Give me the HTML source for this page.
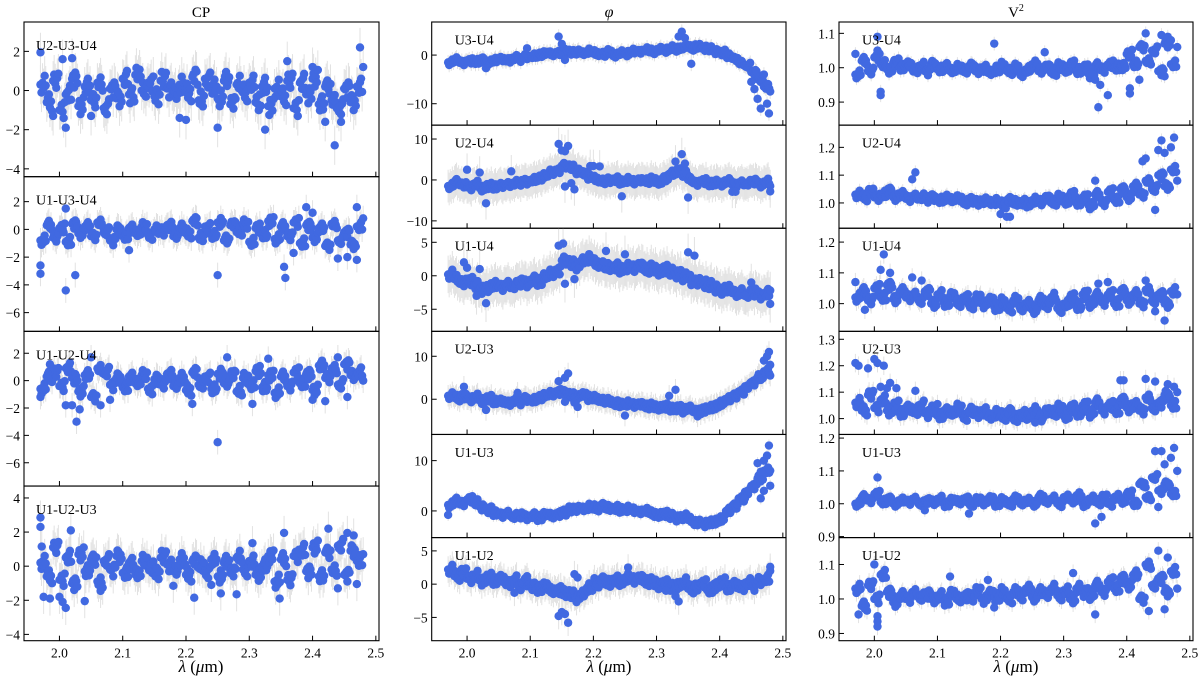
<!DOCTYPE html>
<html><head><meta charset="utf-8"><title>CP, phi and V2 vs wavelength</title>
<style>
html,body{margin:0;padding:0;background:#fff;}
svg{display:block;font-family:"Liberation Serif","DejaVu Serif",serif;}
</style></head>
<body>
<svg id="fig" width="1200" height="681" viewBox="0 0 1200 681" xmlns="http://www.w3.org/2000/svg">
<text x="201" y="17" font-size="15" text-anchor="middle">CP</text>
<text x="609" y="17" font-size="16" font-style="italic" text-anchor="middle">φ</text>
<text x="1016" y="17" font-size="15" text-anchor="middle">V<tspan dy="-6" font-size="10">2</tspan></text>
<text x="201" y="672" font-size="17" text-anchor="middle"><tspan font-style="italic">λ</tspan> (<tspan font-style="italic">μ</tspan>m)</text>
<text x="609" y="672" font-size="17" text-anchor="middle"><tspan font-style="italic">λ</tspan> (<tspan font-style="italic">μ</tspan>m)</text>
<text x="1016" y="672" font-size="17" text-anchor="middle"><tspan font-style="italic">λ</tspan> (<tspan font-style="italic">μ</tspan>m)</text>
</svg>
<script>
const xTicks = [2.0, 2.1, 2.2, 2.3, 2.4, 2.5];
const xTickLabels = ["2.0", "2.1", "2.2", "2.3", "2.4", "2.5"];
const panelNames = ["U2-U3-U4","U1-U3-U4","U1-U2-U4","U1-U2-U3","U3-U4","U2-U4","U1-U4","U2-U3","U1-U3","U1-U2","U3-U4","U2-U4","U1-U4","U2-U3","U1-U3","U1-U2"];
const jitter = [0.6,-0.9,0.2,-0.4,1.0,-0.1,-0.7,0.5,0.9,-0.6,0.1,-1.0,0.4,0.7,-0.3,-0.8,0.3,0.8,-0.5,0.0,0.6,-0.2,-0.9,0.9,-0.4,0.2,-0.7,0.5,1.0,-0.6,-0.1,0.4,-1.0,0.7,0.3,-0.5,0.8];

const cp1 = [0.3,-0.6,0.5,-1.0,-0.2,0.6,-0.8,0.2,-0.5,0.4,-0.9,0.1,-0.4,0.6,-0.2,0.8,0.0,0.4,-0.3,0.5,0.1,-0.2,0.3,-0.1,0.7,-0.5,0.6,0.2,-0.4,0.5,-0.7,0.3,-0.1,0.4,-0.6,0.2,-0.8,0.1,-0.3,0.5,-0.9,0.4,-0.2,0.6,-0.7,0.2,-0.5,-0.9,0.1,-0.6,0.2,1.2];
const cp1Out = [[1.97,1.95],[1.99,-1.3],[2.005,1.6],[2.01,-1.9],[2.02,1.65],[2.05,-1.3],[2.19,-1.4],[2.2,-1.5],[2.25,-1.9],[2.325,-2.0],[2.42,-1.6],[2.435,-2.8],[2.445,-1.6],[2.475,2.2],[2.4,1.2],[2.36,1.5]];
const cp2 = [-0.8,0.3,-0.6,0.1,-0.9,0.4,-0.3,0.2,-0.5,0.5,-0.2,-0.8,0.0,-0.5,0.1,-0.3,0.2,-0.4,0.0,-0.2,0.3,-0.5,0.1,-0.3,0.6,-0.6,0.2,-0.4,0.5,-0.8,0.3,-0.2,0.4,-0.9,0.1,-0.4,0.6,-0.7,0.2,-0.5,0.5,-1.0,0.3,-0.6,0.1,-1.2,0.4,-0.8,-0.2,-1.1,0.2,0.8];
const cp2Out = [[1.97,-2.6],[1.97,-3.2],[2.01,-4.4],[2.025,-3.3],[2.01,1.5],[2.11,-1.5],[2.25,-3.3],[2.355,-2.7],[2.357,-3.5],[2.37,-1.7],[2.39,1.6],[2.44,-2.1],[2.455,-2.0],[2.47,-2.2],[2.47,1.6],[2.4,1.2]];
const cp3 = [-0.6,0.3,0.6,-0.4,0.9,0.2,-0.8,0.4,-1.2,0.9,0.6,-0.3,0.2,-0.5,0.3,-0.2,0.4,-0.6,0.1,-0.3,0.5,-0.4,0.2,-0.7,0.6,-0.3,0.3,-0.6,0.5,-0.2,0.4,-0.8,0.2,-0.3,0.7,-0.5,0.4,-0.9,0.3,-0.4,0.6,-0.2,0.5,-0.7,1.1,0.2,0.9,-0.3,1.2,0.4,0.6,0.0];
const cp3Out = [[1.97,-1.2],[1.985,1.2],[2.01,-1.8],[2.02,-1.8],[2.027,-3.0],[2.032,-2.1],[2.05,1.7],[2.065,-1.8],[2.08,-1.4],[2.25,-4.5],[2.265,1.7],[2.21,-1.7],[2.33,1.6],[2.4,-1.4],[2.42,-1.5],[2.44,1.7],[2.455,-1.2],[2.305,-1.7]];
const cp4 = [0.2,-0.6,1.1,-0.8,0.5,-1.0,0.7,-0.3,0.4,-0.9,0.3,-0.2,0.6,-0.4,0.2,-0.5,0.3,0.0,-0.4,0.5,0.1,-0.3,0.4,-0.5,0.3,0.0,-0.3,0.4,-0.6,0.2,-0.4,0.5,-0.2,0.3,-0.5,0.0,0.6,-0.9,0.4,-0.8,0.6,0.9,-0.3,1.1,-0.6,0.8,-0.2,1.2,-0.5,0.9,0.3,0.7];
const cp4Out = [[1.97,2.85],[1.97,2.3],[1.972,1.15],[1.975,-1.8],[1.985,-1.9],[2.0,-1.8],[2.005,-2.1],[2.01,-2.45],[2.018,2.1],[2.04,-2.05],[2.065,-1.45],[2.18,-1.15],[2.213,-1.85],[2.24,-1.1],[2.255,-1.6],[2.28,-1.65],[2.305,1.35],[2.355,1.95],[2.348,-1.9],[2.425,2.2],[2.44,-1.3],[2.455,1.95],[2.465,1.8],[2.47,-1.05]];

const ph1 = [-1.5,-1.0,-1.6,-1.2,-1.4,-0.9,-1.5,-1.1,-0.8,-1.0,-0.6,-0.8,-0.3,-0.2,0.1,0.3,0.2,0.6,0.9,0.5,0.7,0.3,0.8,0.4,0.2,0.6,0.1,0.5,0.3,0.7,0.6,1.0,0.8,1.2,1.0,1.4,1.3,1.7,1.5,1.8,1.4,1.2,0.8,0.5,-0.2,-0.8,-1.6,-2.2,-3.5,-5.0,-6.5,-7.5];
const ph1Out = [[2.145,3.8],[2.15,2.3],[2.155,-1.0],[2.095,1.4],[2.03,-2.7],[2.34,4.8],[2.335,3.8],[2.345,3.5],[2.355,-1.8],[2.46,-9],[2.465,-11],[2.475,-10],[2.478,-12],[2.47,-4],[2.45,-5.5],[2.455,-7]];
const ph2 = [-1.5,-0.5,-1.2,-1.8,-1.0,-2.0,-1.5,-1.8,-1.3,-1.0,-0.8,-0.6,-0.4,0.0,0.5,1.0,1.8,2.5,3.5,3.0,2.2,1.5,0.8,0.2,-0.3,-0.2,0.3,-0.5,0.0,-0.6,-0.2,-0.4,0.1,-0.5,0.4,1.5,2.2,1.5,0.0,-0.8,-0.3,-1.0,-0.5,-0.9,-0.3,-1.2,-0.6,-0.8,-0.3,-1.1,-0.4,-1.5];
const ph2Out = [[2.145,8.8],[2.15,7.2],[2.16,8.3],[2.155,7],[2.155,-1.6],[2.165,-0.8],[2.17,-2.3],[2.195,3.4],[2.2,3.4],[2.21,3.3],[2.245,-4],[2.33,4.5],[2.34,6.3],[2.345,4],[2.35,-4.3],[2.0,2.5],[2.02,1.8],[2.07,2.1],[2.03,-5.7],[2.42,-2.9],[2.425,-2.9],[2.48,-2.8]];
const ph3 = [0.2,-0.5,-1.0,-0.8,-1.5,-2.0,-1.8,-1.4,-1.7,-1.2,-1.5,-0.9,-1.1,-0.6,-0.8,-0.2,0.3,0.9,2.3,1.8,1.5,2.2,2.6,1.9,1.6,1.2,1.5,0.9,1.3,1.0,1.4,0.8,1.2,0.6,1.0,0.5,0.3,-0.2,-0.5,-0.9,-1.2,-1.5,-1.8,-2.2,-2.0,-2.6,-2.3,-2.8,-2.4,-2.9,-2.6,-2.2];
const ph3Out = [[2.145,4.5],[2.152,4.8],[2.155,-1.2],[2.17,-0.5],[2.22,3.7],[2.25,3.2],[2.35,3.5],[2.36,3],[2.355,-1.4],[1.995,2.0],[2.02,1.0],[2.015,-3],[2.03,-4.1],[2.0,1.2],[2.44,-3],[2.43,-3],[2.48,-4.2],[2.45,-1]];
const ph4 = [0.8,0.3,0.6,0.0,0.5,-0.3,0.2,-0.6,-0.4,-0.8,-0.3,-0.6,0.1,-0.2,0.4,0.8,1.2,1.8,1.5,0.9,0.6,1.0,0.3,0.2,-0.3,-0.5,-0.8,-1.2,-1.0,-1.5,-1.3,-1.8,-1.5,-2.0,-1.7,-2.3,-2.0,-2.6,-2.2,-2.8,-2.4,-2.1,-1.5,-0.8,0.0,0.8,1.8,3.0,4.0,5.2,6.5,8.0];
const ph4Out = [[2.145,4.2],[2.155,5],[2.16,6],[2.155,-0.6],[2.175,-1.8],[2.17,-0.8],[2.25,-3.8],[2.33,2.2],[2.32,0.8],[1.995,2.9],[2.08,1.5],[2.03,-2.5],[2.365,-4],[2.37,-3.5],[2.47,9],[2.478,11],[2.475,10],[2.48,5.5]];
const ph5 = [1.2,2.0,1.5,2.3,1.6,0.8,0.2,-0.5,-0.8,-0.4,-1.1,-0.8,-1.2,-0.9,-1.3,-0.8,-1.0,-0.5,-0.3,0.2,0.5,0.3,0.8,0.6,1.0,0.5,0.7,0.2,0.4,0.0,-0.3,-0.1,-0.5,-0.8,-0.6,-1.1,-1.4,-1.2,-1.8,-2.3,-2.6,-2.4,-2.0,-1.5,0.0,1.0,2.5,3.8,5.0,6.5,8.0,5.0];
const ph5Out = [[1.97,-0.8],[2.36,-2.8],[2.44,2.5],[2.46,9.5],[2.465,7.8],[2.47,10],[2.475,11],[2.478,13],[2.465,2.5],[2.48,8],[2.47,4]];
const ph6 = [2.2,1.2,1.8,0.8,1.3,0.5,1.0,0.4,0.9,0.2,0.6,-0.2,0.3,-0.4,-0.6,-0.3,-1.0,-0.8,-1.3,-1.6,-2.0,-1.5,-0.5,0.2,0.6,0.1,0.8,0.3,1.0,0.5,0.8,0.2,0.4,-0.2,0.1,-0.5,-0.2,0.3,-0.7,-0.4,0.1,-0.9,-0.2,0.3,-0.6,0.0,-0.4,0.2,-0.3,0.5,0.8,2.0];
const ph6Out = [[2.145,-4.8],[2.15,-4.2],[2.155,-4.5],[2.16,-5.8],[2.17,1.5],[2.175,1.0],[2.255,2.5],[2.095,1.2],[2.075,-1.3],[2.33,-1.8],[2.335,-2.6],[2.315,-1.0],[2.48,2.6]];

const v1 = [0.98,1.02,0.99,1.03,1.01,0.995,1.015,1.00,1.01,0.995,1.005,0.99,1.01,0.995,1.005,0.99,1.00,0.995,1.005,0.99,1.00,0.985,0.995,1.005,0.99,1.00,0.985,0.995,1.01,0.99,1.00,0.985,1.005,0.995,1.01,0.99,1.00,0.98,1.005,0.995,1.01,1.00,1.005,1.04,1.01,1.06,1.02,1.05,0.99,1.07,1.01,1.06];
const v1Out = [[1.97,1.04],[2.005,1.09],[2.005,1.05],[2.01,0.93],[2.01,0.92],[2.19,1.07],[2.27,1.045],[2.35,0.965],[2.355,0.885],[2.358,0.95],[2.37,0.92],[2.405,0.925],[2.405,0.94],[2.42,0.965],[2.43,1.1],[2.455,1.095],[2.465,1.09],[2.47,1.08],[2.46,0.975]];
const v2 = [1.03,1.02,1.04,1.02,1.03,1.045,1.02,1.03,1.015,1.025,1.02,1.015,1.02,1.01,1.02,1.01,1.015,1.005,1.01,1.0,1.01,1.0,1.005,0.995,1.01,1.0,1.005,0.995,1.01,1.0,1.015,1.0,1.02,1.005,1.03,1.0,1.02,0.99,1.03,1.0,1.04,1.01,1.05,1.02,1.06,1.03,1.08,1.05,1.10,1.06,1.12,1.08];
const v2Out = [[2.06,1.085],[2.065,1.11],[2.2,0.96],[2.21,0.95],[2.215,0.95],[2.35,1.08],[2.425,1.15],[2.43,1.16],[2.45,1.19],[2.455,1.225],[2.46,1.18],[2.475,1.235],[2.47,1.2],[2.445,0.975]];
const v3 = [1.02,1.04,1.01,1.05,1.02,1.06,1.015,1.04,1.02,1.03,1.01,1.04,1.0,1.03,1.005,1.025,1.0,1.02,0.995,1.015,1.0,1.01,0.99,1.005,0.985,1.01,0.99,1.0,0.98,1.01,0.99,1.02,0.985,1.0,1.02,0.99,1.03,1.0,1.025,1.005,1.03,1.0,1.04,1.01,1.03,1.0,1.045,1.01,1.03,1.0,1.04,1.03];
const v3Out = [[1.97,1.07],[1.985,0.98],[2.01,1.11],[2.015,1.16],[2.025,1.1],[2.06,1.085],[2.075,1.075],[2.355,1.065],[2.37,1.07],[2.43,1.075],[2.475,1.045],[2.445,0.975],[2.46,0.945]];
const v4 = [1.06,1.03,1.09,1.04,1.07,1.03,1.05,1.02,1.04,1.03,1.05,1.02,1.035,1.01,1.03,1.02,1.04,1.01,1.03,1.015,1.03,1.005,1.02,1.01,1.025,1.0,1.02,1.01,1.03,1.0,1.025,1.02,1.04,1.01,1.04,1.02,1.05,1.02,1.06,1.03,1.05,1.03,1.07,1.04,1.05,1.03,1.08,1.04,1.06,1.09,1.05,1.10];
const v4Out = [[1.97,1.21],[1.975,1.2],[1.99,1.19],[2.0,1.225],[2.005,1.21],[2.015,1.2],[2.01,1.12],[2.02,1.115],[2.025,1.135],[2.035,1.115],[2.065,1.105],[2.1,1.055],[2.255,0.985],[2.39,1.145],[2.395,1.145],[2.43,1.15],[2.445,1.14],[2.465,1.13],[2.475,1.12]];
const v5 = [1.0,1.02,1.01,1.03,1.005,1.015,1.0,1.01,1.005,1.015,1.0,1.01,1.005,1.015,1.0,1.01,1.005,1.015,1.0,1.01,1.005,1.015,1.0,1.01,1.0,1.015,1.005,1.01,1.0,1.02,1.005,1.015,1.0,1.02,1.01,1.025,1.0,1.015,1.005,1.02,1.0,1.02,1.01,1.03,1.0,1.06,1.02,1.08,1.04,1.06,1.03,1.1];
const v5Out = [[2.005,1.08],[2.08,0.98],[2.15,0.97],[2.35,0.94],[2.36,0.96],[2.445,1.16],[2.455,1.16],[2.46,1.12],[2.475,1.17],[2.47,1.14],[2.45,0.99],[2.43,1.05]];
const v6 = [1.03,0.98,1.04,1.0,1.07,1.02,0.99,1.01,1.0,1.02,1.005,1.015,1.0,1.01,0.995,1.015,1.0,1.01,1.005,1.02,1.0,1.015,1.005,1.02,1.0,1.02,1.01,1.03,1.005,1.02,1.01,1.03,1.01,1.025,1.0,1.03,1.02,1.01,1.04,1.02,1.05,1.03,1.06,1.04,1.07,1.0,1.1,1.04,1.06,1.02,1.08,1.03];
const v6Out = [[1.975,0.955],[2.0,1.1],[2.005,0.95],[2.005,0.935],[2.005,0.92],[2.12,1.065],[2.18,1.055],[2.19,0.975],[2.315,1.075],[2.35,0.955],[2.435,0.965],[2.45,1.14],[2.46,0.97],[2.465,1.12]];

const cpTicks1 = [-4,-2,0,2], cpTicks2 = [-6,-4,-2,0,2], cpTicks4 = [-4,-2,0,2,4];
const phTicks1 = [-10,0], phTicks2 = [-10,0,10], phTicks3 = [-5,0,5], phTicks4 = [0,10];
const vTicks1 = [0.9,1.0,1.1], vTicks2 = [1.0,1.1,1.2], vTicks4 = [1.0,1.1,1.2,1.3], vTicks5 = [0.9,1.0,1.1,1.2];

const NS = "http://www.w3.org/2000/svg";
const svg = document.getElementById("fig");
const XMIN = 1.944, XMAX = 2.505, WL0 = 1.97, WL1 = 2.48, SUB = 6;
function mk(tag, attrs, parent){ const e = document.createElementNS(NS, tag); for (const k in attrs) e.setAttribute(k, attrs[k]); (parent||svg).appendChild(e); return e; }
function fmt(v, dec){ const s = v.toFixed(dec); return s.replace("-", "\u2212"); }

const cols = [
  {x0:24, x1:379, n:4},
  {x0:431.7, x1:786, n:6},
  {x0:839, x1:1193, n:6}
];
const TOP = 22, BOT = 640.7;
const panels = [
  {c:0,i:0,v:cp1,o:cp1Out,yl:[-4.4,3.5],t:cpTicks1,d:0,err:1.0,amp:0.45},
  {c:0,i:1,v:cp2,o:cp2Out,yl:[-7.35,3.8],t:cpTicks2,d:0,err:0.9,amp:0.35},
  {c:0,i:2,v:cp3,o:cp3Out,yl:[-7.7,3.6],t:cpTicks2,d:0,err:0.9,amp:0.4},
  {c:0,i:3,v:cp4,o:cp4Out,yl:[-4.37,4.7],t:cpTicks4,d:0,err:1.0,amp:0.4},
  {c:1,i:0,v:ph1,o:ph1Out,yl:[-14.4,6.8],t:phTicks1,d:0,err:1.5,amp:0.6},
  {c:1,i:1,v:ph2,o:ph2Out,yl:[-11.8,13.4],t:phTicks2,d:0,err:4.0,amp:0.8},
  {c:1,i:2,v:ph3,o:ph3Out,yl:[-8.3,7.1],t:phTicks3,d:0,err:2.8,amp:0.7},
  {c:1,i:3,v:ph4,o:ph4Out,yl:[-8.2,15.8],t:phTicks4,d:0,err:2.5,amp:0.8},
  {c:1,i:4,v:ph5,o:ph5Out,yl:[-5.3,15.2],t:phTicks4,d:0,err:1.2,amp:0.7},
  {c:1,i:5,v:ph6,o:ph6Out,yl:[-8.5,7.0],t:phTicks3,d:0,err:2.0,amp:0.7},
  {c:2,i:0,v:v1,o:v1Out,yl:[0.833,1.133],t:vTicks1,d:1,err:0.02,amp:0.012},
  {c:2,i:1,v:v2,o:v2Out,yl:[0.909,1.28],t:vTicks2,d:1,err:0.025,amp:0.014},
  {c:2,i:2,v:v3,o:v3Out,yl:[0.91,1.245],t:vTicks2,d:1,err:0.03,amp:0.015},
  {c:2,i:3,v:v4,o:v4Out,yl:[0.94,1.33],t:vTicks4,d:1,err:0.035,amp:0.018},
  {c:2,i:4,v:v5,o:v5Out,yl:[0.897,1.211],t:vTicks5,d:1,err:0.02,amp:0.01},
  {c:2,i:5,v:v6,o:v6Out,yl:[0.879,1.178],t:vTicks1,d:1,err:0.025,amp:0.014}
];

panels.forEach((p, k) => {
  const col = cols[p.c];
  const h = (BOT - TOP) / col.n;
  const top = TOP + p.i * h, bot = top + h;
  const xs = x => col.x0 + (x - XMIN) / (XMAX - XMIN) * (col.x1 - col.x0);
  const ys = y => bot - (y - p.yl[0]) / (p.yl[1] - p.yl[0]) * h;
  const g = mk("g", {});
  
  
  const cid = "clip" + k;
  const cp = mk("clipPath", {id: cid}, g);
  mk("rect", {x: col.x0, y: top, width: col.x1 - col.x0, height: h}, cp);
  const data = mk("g", {"clip-path": "url(#" + cid + ")"}, g);
  const n = p.v.length;
  const step = (WL1 - WL0) / (n - 1);
  const pts = [];
  p.v.forEach((v, i) => {
    for (let s = 0; s < SUB; s++) {
      if (i === n - 1 && s > 0) break;
      const j = jitter[(i * SUB + s) % jitter.length];
      pts.push([WL0 + (i + s / SUB) * step, v + (s === 0 ? 0 : j * p.amp)]);
    }
  });
  p.o.forEach(q => pts.push(q));
  pts.forEach(q => {
    const ln = mk("line", {x1: xs(q[0]), x2: xs(q[0]), y1: ys(q[1] - p.err), y2: ys(q[1] + p.err), stroke: "#e2e2e2", "stroke-width": 1}, data);
    
    
  });
  pts.forEach(q => {
    const c = mk("circle", {cx: xs(q[0]), cy: ys(q[1]), r: 4.2, fill: "#4169E1"}, data);
    
    
  });
  const fr = mk("rect", {x: col.x0, y: top, width: col.x1 - col.x0, height: h, fill: "none", stroke: "#000", "stroke-width": 1.1}, g);
  
  
  xTicks.forEach((t, j) => {
    const x = xs(t);
    mk("line", {x1: x, x2: x, y1: bot, y2: bot - 5, stroke: "#000", "stroke-width": 1}, g);
    if (p.i === col.n - 1) {
      const tl = mk("text", {x: x, y: bot + 17, "font-size": 13.5, "text-anchor": "middle"}, g);
      tl.textContent = xTickLabels[j];
      
      
    }
  });
  p.t.forEach(t => {
    const y = ys(t);
    mk("line", {x1: col.x0, x2: col.x0 + 5, y1: y, y2: y, stroke: "#000", "stroke-width": 1}, g);
    const tl = mk("text", {x: col.x0 - 4, y: y + 5, "font-size": 13.5, "text-anchor": "end"}, g);
    tl.textContent = fmt(t, p.d);
    
    
  });
  const lab = mk("text", {x: col.x0 + (p.c === 0 ? 12 : 23), y: top + 0.11 * h + 11, "font-size": 14}, g);
  lab.textContent = panelNames[k];
  
  
});
</script>
</body></html>
